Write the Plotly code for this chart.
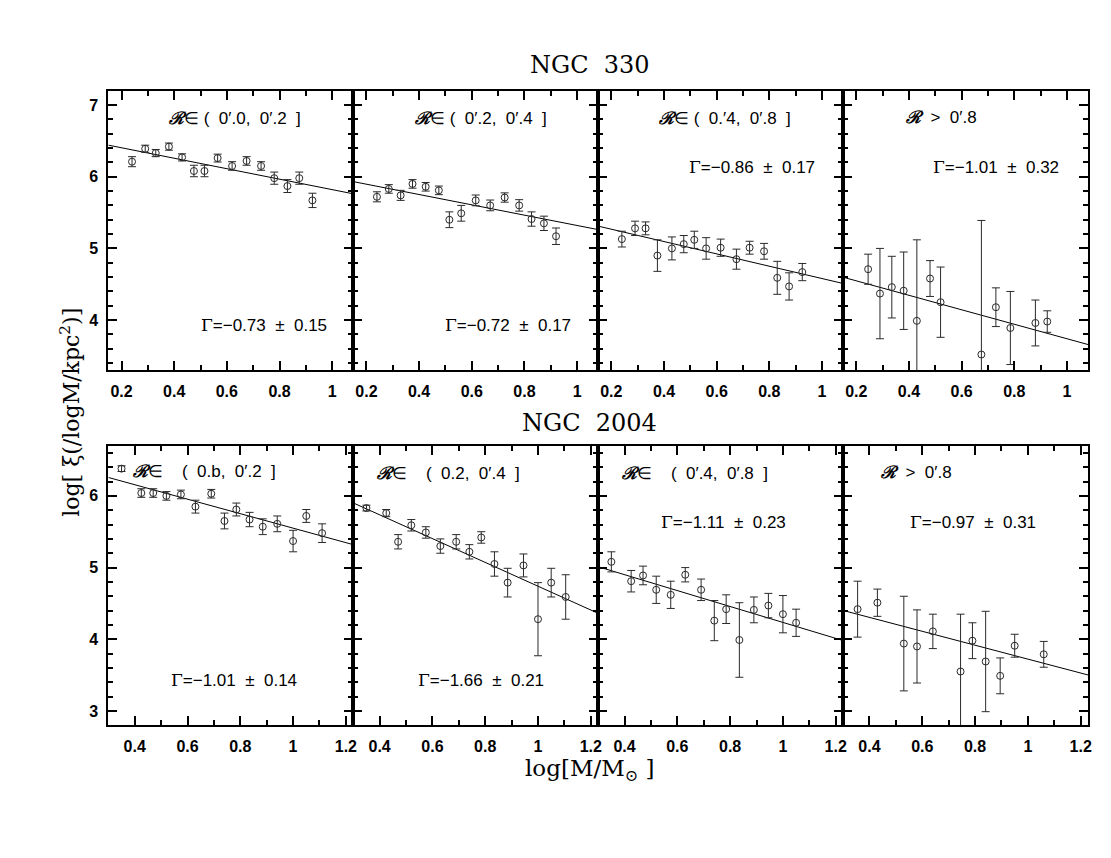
import plotly.graph_objects as go
from plotly.subplots import make_subplots

# ---- NGC 330: log M bins, log xi, errors (one list per radial bin) ----
n330_x1 = [0.24, 0.29, 0.33, 0.38, 0.43, 0.475, 0.515, 0.565, 0.62, 0.675, 0.73, 0.78, 0.83, 0.875, 0.925]
n330_y1 = [6.21, 6.39, 6.33, 6.42, 6.27, 6.08, 6.08, 6.26, 6.15, 6.22, 6.15, 5.98, 5.87, 5.98, 5.67]
n330_e1 = [0.07, 0.05, 0.05, 0.05, 0.05, 0.08, 0.08, 0.055, 0.06, 0.06, 0.06, 0.085, 0.09, 0.085, 0.1]

n330_x2 = [0.24, 0.285, 0.33, 0.375, 0.425, 0.475, 0.515, 0.56, 0.615, 0.67, 0.725, 0.78, 0.827, 0.874, 0.92]
n330_y2 = [5.72, 5.83, 5.74, 5.90, 5.86, 5.81, 5.40, 5.49, 5.67, 5.60, 5.71, 5.60, 5.41, 5.35, 5.17]
n330_e2 = [0.07, 0.06, 0.07, 0.06, 0.06, 0.06, 0.11, 0.11, 0.075, 0.075, 0.065, 0.08, 0.1, 0.1, 0.115]

n330_x3 = [0.24, 0.29, 0.33, 0.375, 0.43, 0.475, 0.515, 0.56, 0.615, 0.675, 0.725, 0.78, 0.83, 0.875, 0.925]
n330_y3 = [5.13, 5.28, 5.28, 4.90, 5.0, 5.06, 5.12, 5.0, 5.01, 4.85, 5.01, 4.96, 4.59, 4.47, 4.67]
n330_e3 = [0.11, 0.1, 0.09, 0.22, 0.16, 0.12, 0.12, 0.15, 0.12, 0.14, 0.09, 0.11, 0.23, 0.19, 0.12]

n330_x4 = [0.245, 0.29, 0.335, 0.38, 0.43, 0.48, 0.52, 0.675, 0.73, 0.785, 0.88, 0.925]
n330_y4 = [4.71, 4.37, 4.46, 4.41, 3.99, 4.58, 4.25, 3.52, 4.18, 3.89, 3.96, 3.98]
n330_e4 = [0.21, 0.63, 0.43, 0.54, 1.13, 0.25, 0.49, 1.87, 0.27, 0.51, 0.32, 0.15]

# ---- NGC 2004 ----
n2004_x1 = [0.35, 0.425, 0.47, 0.52, 0.575, 0.63, 0.69, 0.74, 0.785, 0.835, 0.885, 0.94, 1.0, 1.05, 1.11]
n2004_y1 = [6.38, 6.04, 6.04, 6.0, 6.02, 5.85, 6.03, 5.65, 5.81, 5.67, 5.57, 5.61, 5.37, 5.72, 5.48]
n2004_e1 = [0.04, 0.06, 0.06, 0.06, 0.06, 0.09, 0.06, 0.11, 0.09, 0.1, 0.11, 0.11, 0.15, 0.09, 0.13]

n2004_x2 = [0.35, 0.425, 0.47, 0.52, 0.575, 0.63, 0.69, 0.74, 0.785, 0.835, 0.885, 0.945, 1.0, 1.05, 1.105]
n2004_y2 = [5.83, 5.76, 5.36, 5.59, 5.49, 5.30, 5.36, 5.22, 5.42, 5.05, 4.79, 5.03, 4.28, 4.79, 4.59]
n2004_e2 = [0.04, 0.05, 0.1, 0.08, 0.08, 0.1, 0.1, 0.1, 0.08, 0.17, 0.2, 0.16, 0.51, 0.2, 0.31]

n2004_x3 = [0.35, 0.425, 0.47, 0.52, 0.575, 0.63, 0.69, 0.74, 0.785, 0.835, 0.89, 0.945, 1.0, 1.05]
n2004_y3 = [5.08, 4.81, 4.89, 4.69, 4.62, 4.90, 4.69, 4.26, 4.42, 3.99, 4.41, 4.47, 4.35, 4.23]
n2004_e3 = [0.14, 0.15, 0.13, 0.19, 0.19, 0.1, 0.15, 0.28, 0.2, 0.52, 0.18, 0.17, 0.26, 0.19]

n2004_x4 = [0.355, 0.43, 0.53, 0.58, 0.64, 0.745, 0.79, 0.84, 0.895, 0.95, 1.06]
n2004_y4 = [4.42, 4.51, 3.94, 3.90, 4.11, 3.55, 3.98, 3.69, 3.49, 3.91, 3.79]
n2004_e4 = [0.39, 0.19, 0.66, 0.51, 0.24, 0.80, 0.25, 0.70, 0.25, 0.16, 0.18]

# power-law fits: log xi = a + Gamma * log M
n330_fit_a = [6.55, 6.04, 5.44, 4.75]
n330_fit_gamma = [-0.73, -0.72, -0.86, -1.01]
n2004_fit_a = [6.56, 6.40, 5.345, 4.693]
n2004_fit_gamma = [-1.01, -1.66, -1.11, -0.97]

n330_gamma_text = ["Γ=−0.73 ± 0.15", "Γ=−0.72 ± 0.17", "Γ=−0.86 ± 0.17", "Γ=−1.01 ± 0.32"]
n2004_gamma_text = ["Γ=−1.01 ± 0.14", "Γ=−1.66 ± 0.21", "Γ=−1.11 ± 0.23", "Γ=−0.97 ± 0.31"]
n330_bins = ["ℛ∈ (  0′.0,  0′.2  ]", "ℛ∈ (  0′.2,  0′.4  ]", "ℛ∈ (  0.′4,  0′.8  ]", "ℛ  >  0′.8"]
n2004_bins = ["ℛ∈    (  0.b,  0′.2  ]", "ℛ∈    (  0.2,  0′.4  ]", "ℛ∈    (  0′.4,  0′.8  ]", "ℛ  >  0′.8"]

top_xrange = [0.15, 1.08]
top_yrange = [3.3, 7.2]
bot_xrange = [0.3, 1.228]
bot_yrange = [2.8, 6.7]

W, H = 1111, 858
col_edges = [100.7, 346.5, 592.3, 838.1, 1084]
row_px = [(82.7, 362.3), (437.7, 717.3)]

INK = "#2a2a2a"
SANS = "Liberation Sans"
SERIF = "DejaVu Serif"

fig = make_subplots(rows=2, cols=4)

rows = [
    (
        [(n330_x1, n330_y1, n330_e1), (n330_x2, n330_y2, n330_e2),
         (n330_x3, n330_y3, n330_e3), (n330_x4, n330_y4, n330_e4)],
        n330_fit_a, n330_fit_gamma, top_xrange, top_yrange,
    ),
    (
        [(n2004_x1, n2004_y1, n2004_e1), (n2004_x2, n2004_y2, n2004_e2),
         (n2004_x3, n2004_y3, n2004_e3), (n2004_x4, n2004_y4, n2004_e4)],
        n2004_fit_a, n2004_fit_gamma, bot_xrange, bot_yrange,
    ),
]

for r, (panels, fa, fg, xr, yr) in enumerate(rows):
    for c, (xs, ys, es) in enumerate(panels):
        # fitted line across the whole panel
        fig.add_trace(
            go.Scatter(
                x=xr,
                y=[fa[c] + fg[c] * v for v in xr],
                mode="lines",
                line=dict(color="black", width=1),
                showlegend=False,
                hoverinfo="skip",
            ),
            row=r + 1, col=c + 1,
        )
        fig.add_trace(
            go.Scatter(
                x=xs, y=ys,
                mode="markers",
                marker=dict(symbol="circle-open", size=7, color=INK, line=dict(width=1)),
                error_y=dict(type="data", array=es, color=INK, thickness=1, width=4),
                showlegend=False,
            ),
            row=r + 1, col=c + 1,
        )
        y0, y1 = row_px[r]
        fig.update_xaxes(
            domain=[col_edges[c] / W, col_edges[c + 1] / W],
            range=xr, dtick=0.2, tick0=0,
            minor=dict(dtick=0.1, tick0=0, ticklen=5, ticks="inside", tickcolor="black"),
            row=r + 1, col=c + 1,
        )
        fig.update_yaxes(
            domain=[1 - y1 / H, 1 - y0 / H],
            range=yr, dtick=1, tick0=0,
            minor=dict(dtick=0.2, tick0=0, ticklen=5, ticks="inside", tickcolor="black"),
            showticklabels=(c == 0),
            row=r + 1, col=c + 1,
        )

common = dict(
    showline=True, linecolor="black", linewidth=2, mirror="ticks",
    ticks="inside", ticklen=9, tickwidth=1.5, tickcolor="black",
    showgrid=False, zeroline=False,
    tickfont=dict(family=SANS, size=16, color="black", weight="bold"),
    ticklabelstandoff=5,
)
fig.update_xaxes(**common)
fig.update_yaxes(**common)

annotations = []


def add_text(text, px, py, size=16, family=SANS, angle=0):
    annotations.append(dict(
        text=text, x=px / W, y=1 - py / H, xref="paper", yref="paper",
        xanchor="center", yanchor="middle", showarrow=False, textangle=angle,
        font=dict(family=family, size=size, color="black"),
    ))


def fmt_bin(s):
    s = s.replace(" ", "\u00a0")
    return s.replace("ℛ", '<span style="font-family:DejaVu Serif;font-style:italic;font-weight:bold">ℛ</span>')


def fmt_gamma(s):
    s = s.replace(" ± ", "\u00a0\u00a0±\u00a0\u00a0")
    return s.replace("Γ", '<span style="font-family:DejaVu Serif">Γ</span>')


bin_pos = [[(228, 110), (475, 110), (720, 110), (937, 109)],
           [(197, 463), (442, 465), (689, 465), (912, 464)]]
gamma_pos = [[(257, 317), (502, 317), (747, 159), (992, 159)],
             [(227, 672), (475, 672), (718, 514), (968, 514)]]

for r, (bins, gtxt) in enumerate([(n330_bins, n330_gamma_text), (n2004_bins, n2004_gamma_text)]):
    for c in range(4):
        add_text(fmt_bin(bins[c]), *bin_pos[r][c], size=17)
        add_text(fmt_gamma(gtxt[c]), *gamma_pos[r][c], size=17)

add_text("NGC\u00a0\u00a0330", 584, 57, size=24, family=SERIF)
add_text("NGC\u00a0\u00a02004", 584, 415, size=24, family=SERIF)
add_text("log[M/M<sub>⊙</sub>\u00a0]", 584, 762, size=23, family=SERIF)
add_text("log[\u00a0ξ(/logM/kpc<sup>2</sup>)]", 62, 404, size=22, family=SERIF, angle=-90)

fig.update_layout(
    width=W, height=H,
    margin=dict(l=0, r=0, t=0, b=0),
    plot_bgcolor="white", paper_bgcolor="white",
    annotations=annotations,
)

fig.write_html("out.html")
